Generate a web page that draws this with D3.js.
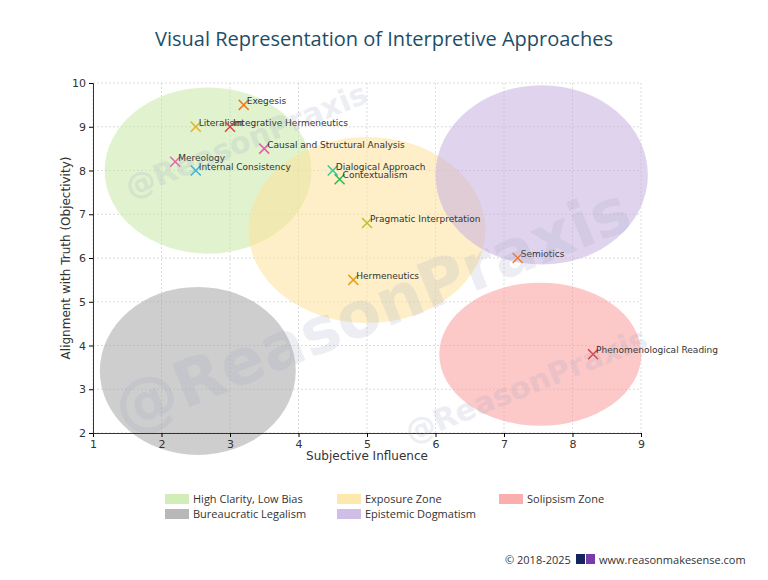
<!DOCTYPE html>
<head>
  <meta charset="utf-8">
  <script src="https://d3js.org/d3.v7.min.js"></script>
  <style>
    body { margin: 0; background: #fff; }
    text { font-family: "DejaVu Sans", sans-serif; }
    .tick text { font-size: 11px; fill: #333; }
    .lbl { font-size: 9px; fill: #333; }
    .leg { font-family: "Open Sans", sans-serif; font-size: 11px; fill: #333; }
  </style>
</head>
<body>
  <svg class="chart"></svg>
  <script>
    var width = 768, height = 580;

    // point data
    var names = ["Exegesis", "Literalism", "Integrative Hermeneutics", "Causal and Structural Analysis",
                 "Mereology", "Internal Consistency", "Dialogical Approach", "Contextualism",
                 "Pragmatic Interpretation", "Hermeneutics", "Semiotics", "Phenomenological Reading"];
    var xs = [3.2, 2.5, 3.0, 3.5, 2.2, 2.5, 4.5, 4.6, 5.0, 4.8, 7.2, 8.3];
    var ys = [9.5, 9.0, 9.0, 8.5, 8.2, 8.0, 8.0, 7.8, 6.8, 5.5, 6.0, 3.8];
    var colors = ["#f07d22", "#e8b11f", "#e0443e", "#e75ea8", "#e067a9", "#2fb6e0",
                  "#35c9a0", "#2dbb4a", "#b7c62a", "#e6a21c", "#f07a2a", "#e3373f"];

    // zones
    var zones = ["High Clarity, Low Bias", "Exposure Zone", "Solipsism Zone", "Bureaucratic Legalism", "Epistemic Dogmatism"];
    var zoneCx = [2.68, 5.0, 7.53, 2.53, 7.55];
    var zoneCy = [8.0, 6.64, 3.8, 3.42, 7.9];
    var zoneW = [3.02, 3.46, 2.95, 2.86, 3.1];
    var zoneH = [3.8, 4.25, 3.27, 3.84, 4.1];
    var zoneColors = ["#c8e8a8", "#fde29a", "#f99a9a", "#a6a6a6", "#c6aee0"];

    var xTicks = [1, 2, 3, 4, 5, 6, 7, 8, 9];
    var yTicks = [2, 3, 4, 5, 6, 7, 8, 9, 10];

    var x = d3.scaleLinear().domain([1, 9]).range([93, 641]);
    var y = d3.scaleLinear().domain([2, 10]).range([433, 83]);

    var svg = d3.select(".chart").attr("width", width).attr("height", height);

    // grid
    svg.append("g").selectAll("line").data(xTicks).enter().append("line")
      .attr("x1", d => x(d)).attr("x2", d => x(d)).attr("y1", y(2)).attr("y2", y(10))
      .attr("stroke", "#ccc").attr("stroke-dasharray", "2,2").attr("stroke-width", 0.7);
    svg.append("g").selectAll("line").data(yTicks).enter().append("line")
      .attr("x1", x(1)).attr("x2", x(9)).attr("y1", d => y(d)).attr("y2", d => y(d))
      .attr("stroke", "#ccc").attr("stroke-dasharray", "2,2").attr("stroke-width", 0.7);

    // zones
    svg.append("g").selectAll("ellipse").data(zones).enter().append("ellipse")
      .attr("cx", (d, i) => x(zoneCx[i])).attr("cy", (d, i) => y(zoneCy[i]))
      .attr("rx", (d, i) => (x(zoneW[i]) - x(0)) / 2)
      .attr("ry", (d, i) => (y(0) - y(zoneH[i])) / 2)
      .attr("fill", (d, i) => zoneColors[i]).attr("opacity", 0.55);

    // axes
    svg.append("g").attr("transform", "translate(0," + y(2) + ")")
      .call(d3.axisBottom(x).tickValues(xTicks).tickSize(4).tickFormat(d3.format("d")))
      .call(g => g.select(".domain").attr("stroke", "#333"));
    svg.append("g").attr("transform", "translate(" + x(1) + ",0)")
      .call(d3.axisLeft(y).tickValues(yTicks).tickSize(4).tickFormat(d3.format("d")))
      .call(g => g.select(".domain").attr("stroke", "#333"));

    // points
    var pts = svg.append("g").selectAll("g").data(names).enter().append("g")
      .attr("transform", (d, i) => "translate(" + x(xs[i]) + "," + y(ys[i]) + ")");
    pts.append("path").attr("d", "M-5,-5L5,5M-5,5L5,-5")
      .attr("stroke", (d, i) => colors[i]).attr("stroke-width", 1.5);
    pts.append("text").attr("class", "lbl").attr("x", 3).attr("y", -1).text(d => d);

    // watermark
    var wm = [[250, 150, -22, 30], [380, 330, -22, 64], [530, 395, -22, 30]];
    svg.append("g").selectAll("text").data(wm).enter().append("text")
      .attr("transform", d => "translate(" + d[0] + "," + d[1] + ") rotate(" + d[2] + ")")
      .attr("text-anchor", "middle").attr("font-weight", "bold").attr("font-size", d => d[3])
      .attr("fill", "#9aa6c0").attr("opacity", 0.18).text("@ReasonPraxis");

    // titles
    svg.append("text").attr("x", 384).attr("y", 46).attr("text-anchor", "middle")
      .style("font-family", "Open Sans, sans-serif").attr("font-size", 20).attr("fill", "#1d4e68")
      .text("Visual Representation of Interpretive Approaches");
    svg.append("text").attr("x", 367).attr("y", 460).attr("text-anchor", "middle")
      .attr("font-size", 12).attr("fill", "#333").text("Subjective Influence");
    svg.append("text").attr("transform", "translate(70,258) rotate(-90)").attr("text-anchor", "middle")
      .attr("font-size", 12).attr("fill", "#333").text("Alignment with Truth (Objectivity)");

    // legend
    var legX = [165, 337, 499, 165, 337], legY = [503, 503, 503, 518, 518];
    var leg = svg.append("g").selectAll("g").data(zones).enter().append("g")
      .attr("transform", (d, i) => "translate(" + legX[i] + "," + legY[i] + ")");
    leg.append("rect").attr("y", -9).attr("width", 24).attr("height", 10)
      .attr("fill", (d, i) => zoneColors[i]).attr("opacity", 0.8);
    leg.append("text").attr("class", "leg").attr("x", 28).text(d => d);

    // footer
    var f = svg.append("g").attr("transform", "translate(0,564)");
    f.append("text").attr("class", "leg").attr("x", 505).attr("y", 0).text("© 2018-2025");
    f.append("rect").attr("x", 576).attr("y", -10).attr("width", 9).attr("height", 10).attr("fill", "#16245e");
    f.append("rect").attr("x", 586).attr("y", -10).attr("width", 9).attr("height", 10).attr("fill", "#7a3aa8");
    f.append("text").attr("class", "leg").attr("x", 599).attr("y", 0).text("www.reasonmakesense.com");
  </script>
</body>
